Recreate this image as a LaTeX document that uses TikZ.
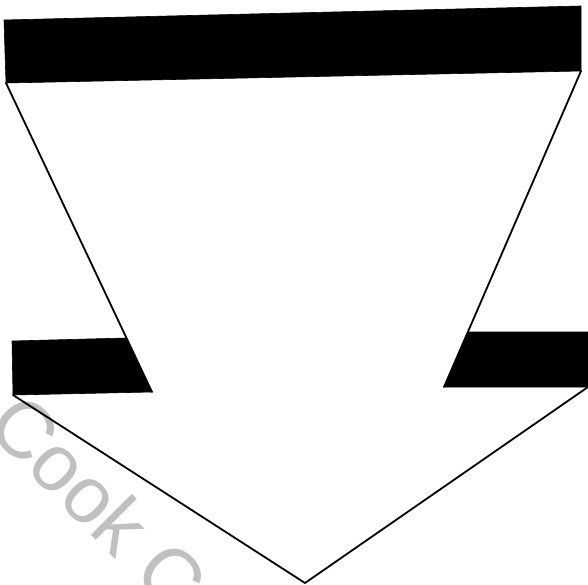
\documentclass[tikz,border=0pt]{standalone}
\usepackage{fontspec}
\usepackage{tikz}
\newfontfamily\markfont{Liberation Sans}
\definecolor{inkblack}{HTML}{000000}
\definecolor{markgray}{HTML}{C0C0C0}
\tikzset{
  bar/.style={fill=inkblack, draw=inkblack, line width=.6pt, line join=round},
  outline/.style={draw=inkblack, line width=1.8pt, line cap=round, line join=round},
  stamp/.style={text=markgray, font=\markfont\fontsize{80}{96}\selectfont,
               inner sep=0pt, anchor=base west, rotate=-45}
}
\begin{document}
\begin{tikzpicture}[x=1pt, y=1pt]
  \clip (0,0) rectangle (588,584);
  \fill[white] (0,0) rectangle (588,584);

  % faint watermark behind the drawing
  \node[stamp] (watermark) at (-16,156) {Cook C};

  % corners of the arrow
  \coordinate (topL) at (6,501);
  \coordinate (topR) at (581,513);
  \coordinate (legL) at (152,192);
  \coordinate (legR) at (444,197);
  \coordinate (wingL) at (13,189);
  \coordinate (wingR) at (588,197);
  \coordinate (tip) at (305,1);

  % black bars
  \fill[bar] (4,564) -- (581,578) -- (topR) -- (topL) -- cycle;
  \fill[bar] (12,243) -- (126.5,246) -- (legL) -- (wingL) -- cycle;
  \fill[bar] (468,252) -- (588,252) -- (wingR) -- (legR) -- cycle;

  % outline of the arrow
  \draw[outline] (topL) -- (legL);
  \draw[outline] (topR) -- (legR);
  \draw[outline] (wingL) -- (tip);
  \draw[outline] (wingR) -- (tip);
\end{tikzpicture}
\end{document}
